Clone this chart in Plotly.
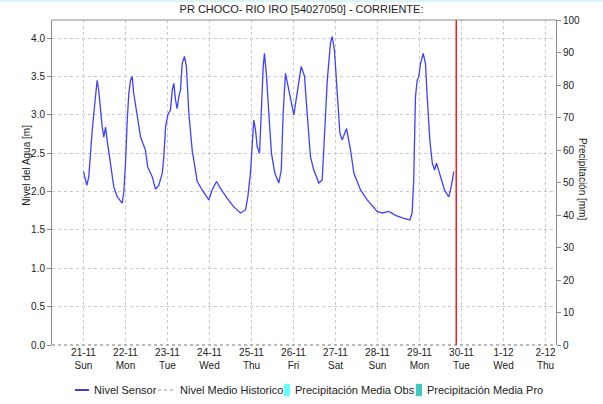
import pandas as pd
import plotly.graph_objects as go

# ── Datos ─────────────────────────────────────────────────────────────────────
INICIO = pd.Timestamp("2021-11-21 00:00")

# horas desde 21-11 00:00 y nivel del sensor [m]
horas = [0.0, 1.9, 3.0, 4.0, 5.0, 5.9, 7.8, 8.7, 9.7, 10.7, 11.6, 12.6, 13.5, 15.4,
         17.3, 19.3, 22.1, 23.0, 24.0, 25.0, 25.9, 26.9, 27.8, 28.7, 30.7, 32.6,
         35.4, 36.7, 39.3, 41.1, 43.0, 45.0, 45.9, 46.9, 48.2, 49.7, 50.7, 51.6,
         52.6, 53.5, 54.5, 55.4, 56.4, 57.7, 58.8, 60.2, 62.1, 64.0, 65.0, 67.8,
         71.6, 73.5, 76.0, 78.3, 82.1, 85.9, 89.7, 92.6, 93.9, 95.4, 96.4, 97.3,
         98.3, 99.3, 100.6, 101.5, 102.7, 103.4, 104.6, 105.9, 107.4, 109.3, 111.6,
         113.0, 114.1, 115.4, 117.3, 120.2, 124.4, 126.3, 127.8, 129.7, 131.6,
         134.5, 136.4, 137.7, 139.3, 141.1, 142.1, 143.4, 144.9, 146.5, 147.8,
         150.3, 152.6, 154.5, 158.3, 162.1, 167.8, 170.7, 174.5, 178.3, 183.0,
         186.5, 187.8, 188.7, 189.7, 190.7, 191.6, 192.6, 194.1, 195.4, 196.4,
         197.9, 199.3, 200.6, 201.7, 204.0, 206.3, 208.7, 210.1, 211.6]
nivel = [2.26, 2.08, 2.19, 2.54, 2.80, 3.02, 3.45, 3.32, 3.06, 2.84, 2.71, 2.84, 2.67, 2.37,
         2.06, 1.93, 1.85, 1.98, 2.37, 2.93, 3.28, 3.45, 3.50, 3.28, 2.97, 2.71,
         2.54, 2.32, 2.19, 2.03, 2.08, 2.24, 2.45, 2.84, 3.00, 3.06, 3.32, 3.41,
         3.19, 3.08, 3.24, 3.32, 3.67, 3.76, 3.63, 3.02, 2.54, 2.28, 2.13, 2.02,
         1.89, 2.02, 2.13, 2.04, 1.91, 1.80, 1.72, 1.76, 1.93, 2.24, 2.58, 2.93,
         2.80, 2.58, 2.50, 3.02, 3.63, 3.80, 3.50, 3.02, 2.50, 2.24, 2.11,
         2.28, 3.02, 3.54, 3.32, 3.00, 3.63, 3.50, 3.02, 2.45, 2.28,
         2.11, 2.15, 2.80, 3.45, 3.93, 4.02, 3.84, 3.24, 2.76, 2.67,
         2.82, 2.54, 2.24, 2.02, 1.89, 1.74, 1.72, 1.74, 1.69, 1.65,
         1.63, 1.72, 2.15, 3.24, 3.45, 3.50, 3.67, 3.80, 3.67, 3.24,
         2.67, 2.37, 2.28, 2.37, 2.19, 2.02, 1.93, 2.06, 2.26]

dias = pd.date_range("2021-11-21", "2021-12-02", freq="D")
dias_txt = ["21-11<br>Sun", "22-11<br>Mon", "23-11<br>Tue", "24-11<br>Wed",
            "25-11<br>Thu", "26-11<br>Fri", "27-11<br>Sat", "28-11<br>Sun",
            "29-11<br>Mon", "30-11<br>Tue", "1-12<br>Wed", "2-12<br>Thu"]
ahora = pd.Timestamp("2021-11-29 21:00")

FONT = "Liberation Sans, Arial, sans-serif"
GRID = "#c8c8c8"
AXIS = "#8a8a8a"
AZUL = "#4040ff"

t = [INICIO + pd.Timedelta(hours=h) for h in horas]

fig = go.Figure()
fig.add_trace(go.Scatter(
    x=t, y=nivel, mode="lines", name="Nivel Sensor",
    line=dict(color=AZUL, width=1.3),
))
# eje secundario de precipitación (sin datos en la ventana)
fig.add_trace(go.Bar(x=[None], y=[None], name="Precipitación Media Obs",
                     marker_color="#66ffff", yaxis="y2"))

# línea "ahora"
fig.add_shape(type="line", xref="x", yref="paper", x0=ahora, x1=ahora,
              y0=0, y1=1, line=dict(color="#ff1a1a", width=1.5))
# borde superior y línea base punteada
fig.add_shape(type="line", xref="paper", yref="paper", x0=0, x1=1, y0=1, y1=1,
              line=dict(color=AXIS, width=1))
fig.add_shape(type="line", xref="paper", yref="paper", x0=0, x1=1, y0=0, y1=0,
              line=dict(color="#777", width=1, dash="dot"))
fig.add_shape(type="line", xref="paper", yref="paper", x0=-0.2, x1=1.2,
              y0=1.0615, y1=1.0615, line=dict(color="#d6f6f8", width=4))

# ── Leyenda manual (una sola fila, como en el original) ──────────────────────
LY = -0.1385
fig.add_shape(type="line", xref="paper", yref="paper", x0=0.0456, x1=0.0734,
              y0=LY, y1=LY, line=dict(color="#0000cc", width=1.5))
fig.add_shape(type="line", xref="paper", yref="paper", x0=0.2103, x1=0.2401,
              y0=LY, y1=LY, line=dict(color="#b8b8b8", width=1.5, dash="dot"))
fig.add_shape(type="rect", xref="paper", yref="paper", x0=0.4603, x1=0.4722,
              y0=LY - 0.019, y1=LY + 0.019, line_width=0, fillcolor="#66ffff")
fig.add_shape(type="rect", xref="paper", yref="paper", x0=0.7222, x1=0.7341,
              y0=LY - 0.019, y1=LY + 0.019, line_width=0, fillcolor="#40c8c0")
leyenda = [(0.0794, "Nivel Sensor"), (0.2500, "Nivel Medio Historico"),
           (0.4782, "Precipitación Media Obs"), (0.7401, "Precipitación Media Pro")]
anns = [dict(text=txt, xref="paper", yref="paper", x=x, y=LY, xanchor="left",
             yanchor="middle", showarrow=False, font=dict(size=11, color="#222"))
        for x, txt in leyenda]

anns += [
    dict(text="Nivel del Agua [m]", xref="paper", yref="paper",
         x=-0.065, y=0.554, textangle=-90, showarrow=False,
         font=dict(size=10, color="#222")),
    dict(text="Precipitación [mm]", xref="paper", yref="paper",
         x=1.067, y=0.51, textangle=90, showarrow=False,
         font=dict(size=10, color="#222")),
]

fig.update_layout(
    width=603, height=404,
    paper_bgcolor="#fff", plot_bgcolor="#fff",
    font=dict(family=FONT, size=10, color="#222"),
    margin=dict(l=52, r=47, t=20, b=59, autoexpand=False),
    title=dict(text="PR CHOCO- RIO IRO [54027050] - CORRIENTE:",
               x=0.5, xanchor="center", y=0.978, yanchor="middle",
               font=dict(size=11, color="#222", family=FONT)),
    xaxis=dict(
        range=[pd.Timestamp("2021-11-20 06:00"), pd.Timestamp("2021-12-02 06:00")],
        tickvals=dias, ticktext=dias_txt, ticks="", showline=False,
        showgrid=True, gridcolor=GRID, griddash="dot", gridwidth=1,
        zeroline=False, tickfont=dict(size=10), automargin=False,
    ),
    yaxis=dict(
        range=[0, 4.235], dtick=0.5, tickformat=".1f",
        showgrid=True, gridcolor=GRID, griddash="dot",
        showline=True, linecolor=AXIS, linewidth=1,
        ticks="outside", ticklen=4, tickcolor=AXIS, zeroline=False, automargin=False,
    ),
    yaxis2=dict(
        range=[0, 100], dtick=10, overlaying="y", side="right",
        showgrid=False, showline=True, linecolor=AXIS, linewidth=1,
        ticks="outside", ticklen=4, tickcolor=AXIS, zeroline=False, automargin=False,
    ),
    showlegend=False,
    annotations=anns,
)

# el navegador añade 8px de margen al <body>; se quita para que la figura ocupe la ventana
fig.write_html("out.html", config={"displayModeBar": False},
               post_script="document.body.style.margin='0';")
